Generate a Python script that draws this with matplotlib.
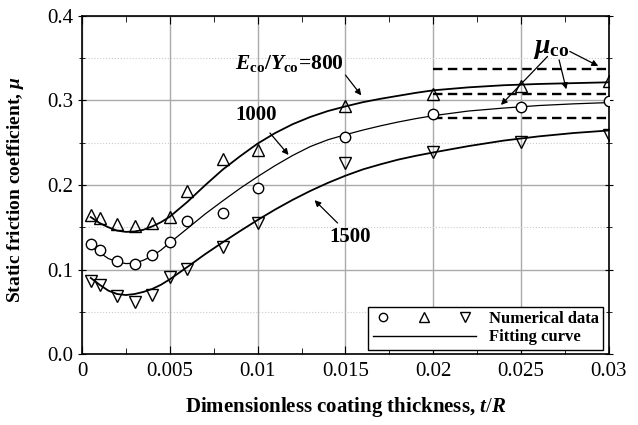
import numpy as np
import matplotlib.pyplot as plt
from matplotlib.lines import Line2D
from matplotlib.legend_handler import HandlerTuple
from matplotlib.ticker import MultipleLocator

plt.rcParams['font.family'] = ['Liberation Serif', 'DejaVu Serif']
plt.rcParams['mathtext.fontset'] = 'custom'
plt.rcParams['mathtext.rm'] = 'Liberation Serif'
plt.rcParams['mathtext.it'] = 'Liberation Serif:italic:bold'
plt.rcParams['mathtext.bf'] = 'Liberation Serif:bold'

# numerical data (t/R, mu)
t_data = [0.0005, 0.001, 0.002, 0.003, 0.004, 0.005, 0.006, 0.008, 0.01, 0.015, 0.02, 0.025, 0.03]
mu_800 = [0.165, 0.161, 0.154, 0.151, 0.155, 0.162, 0.193, 0.231, 0.241, 0.293, 0.308, 0.317, 0.323]
mu_1000 = [0.130, 0.123, 0.110, 0.106, 0.117, 0.132, 0.157, 0.167, 0.196, 0.257, 0.284, 0.292, 0.299]
mu_1500 = [0.086, 0.082, 0.069, 0.061, 0.070, 0.091, 0.101, 0.127, 0.155, 0.226, 0.239, 0.251, 0.259]

# fitting curves
t_fit = [0.0005, 0.001, 0.0015, 0.002, 0.0025, 0.003, 0.0035, 0.004, 0.0045, 0.005, 0.006, 0.007,
         0.008, 0.009, 0.01, 0.011, 0.012, 0.013, 0.014, 0.015, 0.016, 0.017, 0.018, 0.019, 0.02,
         0.022, 0.024, 0.026, 0.028, 0.03]
fit_800 = [0.162, 0.155, 0.150, 0.146, 0.1445, 0.145, 0.147, 0.151, 0.156, 0.1625, 0.180, 0.1995,
           0.218, 0.234, 0.249, 0.2615, 0.272, 0.2805, 0.2875, 0.293, 0.298, 0.302, 0.3055, 0.309, 0.312,
           0.3155, 0.318, 0.3195, 0.3205, 0.3215]
fit_1000 = [0.128, 0.120, 0.113, 0.109, 0.107, 0.1075, 0.111, 0.116, 0.123, 0.1317, 0.1485, 0.1655,
            0.181, 0.196, 0.2099, 0.223, 0.235, 0.2455, 0.2535, 0.2595, 0.265, 0.270, 0.2745, 0.2785, 0.282,
            0.2875, 0.291, 0.294, 0.296, 0.2975]
fit_1500 = [0.090, 0.082, 0.075, 0.071, 0.0698, 0.071, 0.0735, 0.077, 0.082, 0.0884, 0.103, 0.118,
            0.132, 0.1455, 0.1586, 0.171, 0.1825, 0.193, 0.2025, 0.211, 0.2185, 0.2245, 0.230, 0.2345, 0.2385,
            0.246, 0.2525, 0.2575, 0.2615, 0.2645]

# coating friction coefficients
mu_co = [0.337, 0.308, 0.279]
t_co = [0.02, 0.03]

fig = plt.figure(figsize=(6.38, 4.25), dpi=100)
ax = fig.add_axes([0.1285, 0.167, 0.826, 0.7955])

ax.plot(t_fit, fit_800, color='black', lw=1.3)
ax.plot(t_fit, fit_1000, color='black', lw=0.9)
ax.plot(t_fit, fit_1500, color='black', lw=1.3)

ms = 7.5
ax.plot(t_data, mu_1000, 'o', ms=ms, mfc='white', mec='black', mew=1.0, zorder=3)
ax.plot(t_data, mu_800, '^', ms=ms + 0.7, mfc='none', mec='black', mew=1.0, zorder=3)
ax.plot(t_data, mu_1500, 'v', ms=ms + 0.7, mfc='none', mec='black', mew=1.0, zorder=3)

for m in mu_co:
    ax.plot(t_co, [m, m], color='black', lw=1.7, ls=(0, (4, 2.3)))

ax.set_xlim(0, 0.03)
ax.set_ylim(0, 0.4)
ax.set_xticks(np.arange(0, 0.0301, 0.005))
ax.set_xticklabels(['0', '0.005', '0.01', '0.015', '0.02', '0.025', '0.03'])
ax.set_yticks(np.arange(0, 0.401, 0.1))
ax.set_yticklabels(['0.0', '0.1', '0.2', '0.3', '0.4'])
ax.xaxis.set_minor_locator(MultipleLocator(0.0025))
ax.yaxis.set_minor_locator(MultipleLocator(0.05))

ax.grid(which='major', color='#aaaaaa', lw=1.0)
ax.grid(which='minor', axis='y', color='#cccccc', lw=0.8, ls=':')
ax.set_axisbelow(True)
ax.tick_params(which='both', direction='in', top=True, right=True, labelsize=15)
ax.tick_params(axis='y', which='both', direction='inout')
ax.tick_params(which='major', length=6)
ax.tick_params(which='minor', length=4)
ax.tick_params(axis='x', pad=6)
for s in ax.spines.values():
    s.set_linewidth(1.2)

ax.set_xlabel(r'Dimensionless coating thickness, $\mathit{t/R}$', fontsize=15, fontweight='bold')
ax.set_ylabel(r'Static friction coefficient, $\mathit{\mu}$', fontsize=14, fontweight='bold')
ax.xaxis.label.set_va('center')
ax.yaxis.label.set_va('center')
ax.xaxis.set_label_coords(0.5, -0.156)
ax.yaxis.set_label_coords(-0.127, 0.485)

# annotations
ax.text(0.0118, 0.344, r'$\mathit{E}_{\mathbf{co}}\mathbf{/}\mathit{Y}_{\mathbf{co}}$=800',
        fontsize=15.5, fontweight='bold', ha='center', va='center')
ax.text(0.00993, 0.283, '1000', fontsize=15, fontweight='bold', ha='center', va='center')
ax.text(0.01525, 0.138, '1500', fontsize=15, fontweight='bold', ha='center', va='center')
ax.text(0.0267, 0.362, r'$\mathit{\mu}_{\mathbf{co}}$', fontsize=20, ha='center', va='center')

arrow_kw = dict(arrowstyle='-|>', color='black', lw=0.9, mutation_scale=9, shrinkA=0, shrinkB=0)
arrows = [((0.0150, 0.330), (0.0159, 0.306)),
          ((0.0107, 0.2615), (0.01176, 0.2355)),
          ((0.01455, 0.155), (0.01324, 0.182)),
          ((0.0265, 0.352), (0.02385, 0.2947)),
          ((0.02716, 0.348), (0.02757, 0.3132)),
          ((0.02777, 0.358), (0.02939, 0.3408))]
for start, end in arrows:
    ax.annotate('', xy=end, xytext=start, arrowprops=arrow_kw)

# legend
h_o = Line2D([], [], marker='o', ls='none', ms=6, mfc='white', mec='black', mew=1.0)
h_up = Line2D([], [], marker='^', ls='none', ms=6.5, mfc='none', mec='black', mew=1.0)
h_dn = Line2D([], [], marker='v', ls='none', ms=6.5, mfc='none', mec='black', mew=1.0)
h_line = Line2D([], [], color='black', lw=1.0)
leg = ax.legend([(h_o, h_up, h_dn), h_line], ['Numerical data', 'Fitting curve'],
                handler_map={tuple: HandlerTuple(ndivide=None, pad=1.2)},
                loc='lower right', bbox_to_anchor=(0.9895, 0.013), fancybox=False, edgecolor='black',
                framealpha=1, prop={'weight': 'bold', 'size': 12}, handlelength=6.2, handletextpad=0.8,
                borderpad=0.25, labelspacing=0.15, borderaxespad=0)
leg.get_frame().set_linewidth(1.0)

fig.savefig('out.png', dpi=100)
